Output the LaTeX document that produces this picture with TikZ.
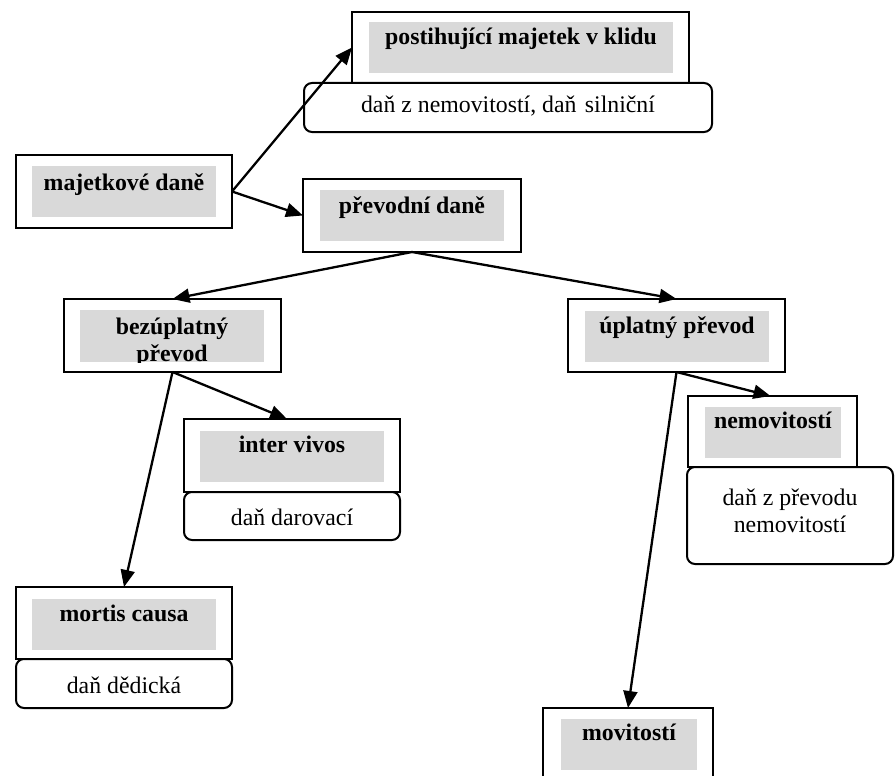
\documentclass[tikz,border=0pt]{standalone}
\usepackage{fontspec}
\setmainfont{Liberation Serif}
\usetikzlibrary{arrows.meta,fit}
\definecolor{boxgray}{RGB}{217,217,217}
\tikzset{
  outerbox/.style={draw, line width=2pt, fill=white, rectangle, inner sep=0pt, outer sep=0pt},
  graybox/.style={fill=boxgray, draw=none, rectangle, inner sep=0pt, outer sep=0pt},
  notebox/.style={draw, line width=2pt, fill=white, rectangle, rounded corners=8pt, inner sep=0pt, outer sep=0pt},
  btxt/.style={font=\fontsize{23.8}{27}\selectfont\bfseries, inner sep=0pt, anchor=base},
  ntxt/.style={font=\fontsize{23.8}{27}\selectfont, inner sep=0pt, anchor=base},
  conn/.style={-{Triangle[length=17pt,width=14pt]}, line width=2.3pt},
}
\begin{document}
\begin{tikzpicture}[x=1pt,y=-1pt]
\useasboundingbox (0,0) rectangle (895,776);
\clip (0,0) rectangle (895,776);

% postihujici majetek v klidu
\node[outerbox, fit={(352,12) (689,83)}] (post) {};
\node[graybox, fit={(369,22) (673,73)}] (postg) {};
\node[btxt] (postt) at (521,45) {postihující majetek v klidu};
\node[notebox, fit={(304,83) (712,132)}] (postd) {};
\node[ntxt] (postdt) at (508,113) {daň z nemovitostí, daň\hspace{0.35em}silniční};

% majetkove dane
\node[outerbox, fit={(16,155) (232,228)}] (maj) {};
\node[graybox, fit={(32,166) (216,217)}] (majg) {};
\node[btxt] (majt) at (124,190) {majetkové daně};

% prevodni dane
\node[outerbox, fit={(303,179) (521,252)}] (prev) {};
\node[graybox, fit={(320,190) (504,241)}] (prevg) {};
\node[btxt] (prevt) at (412,213) {převodní daně};

% bezuplatny prevod
\node[outerbox, fit={(64,299) (281,372)}] (bez) {};
\node[graybox, fit={(80,310) (264,362)}] (bezg) {};
\begin{scope}
  \clip (80,310) rectangle (264,362);
  \node[btxt] (bezt1) at (172,334) {bezúplatný};
  \node[btxt] (bezt2) at (172,361) {převod};
\end{scope}

% inter vivos
\node[outerbox, fit={(184,419) (400,492)}] (inter) {};
\node[graybox, fit={(200,431) (384,482)}] (interg) {};
\node[btxt] (intert) at (292,452) {inter vivos};
\node[notebox, fit={(184,492) (400,540)}] (interd) {};
\node[ntxt] (interdt) at (292,525) {daň darovací};

% uplatny prevod
\node[outerbox, fit={(568,299) (785,372)}] (upl) {};
\node[graybox, fit={(585,311) (769,362)}] (uplg) {};
\node[btxt] (uplt) at (677,333) {úplatný převod};

% nemovitosti
\node[outerbox, fit={(688,396) (857,467)}] (nem) {};
\node[graybox, fit={(705,407) (841,458)}] (nemg) {};
\node[btxt] (nemt) at (773,428) {nemovitostí};
\node[notebox, fit={(687,467) (893,564)}] (nemd) {};
\node[ntxt] (nemdt1) at (790,505) {daň z převodu};
\node[ntxt] (nemdt2) at (790,532) {nemovitostí};

% mortis causa
\node[outerbox, fit={(16,587) (232,659)}] (mort) {};
\node[graybox, fit={(32,599) (216,650)}] (mortg) {};
\node[btxt] (mortt) at (124,621) {mortis causa};
\node[notebox, fit={(16,659) (232,708)}] (mortd) {};
\node[ntxt] (mortdt) at (124,693) {daň dědická};

% movitosti
\node[outerbox, fit={(543,708) (713,782)}] (mov) {};
\node[graybox, fit={(561,719) (697,770)}] (movg) {};
\node[btxt] (movt) at (629,740) {movitostí};

% connectors
\draw[conn] (maj.east) -- (post.west);
\draw[conn] (maj.east) -- (prev.west);
\draw[conn] (prev.south) -- (bez.north);
\draw[conn] (prev.south) -- (upl.north);
\draw[conn] (bez.south) -- ([xshift=-5pt]inter.north);
\draw[conn] (bez.south) -- (mort.north);
\draw[conn] (upl.south) -- ([xshift=-2pt]nem.north);
\draw[conn] (upl.south) -- (mov.north);
\end{tikzpicture}
\end{document}
